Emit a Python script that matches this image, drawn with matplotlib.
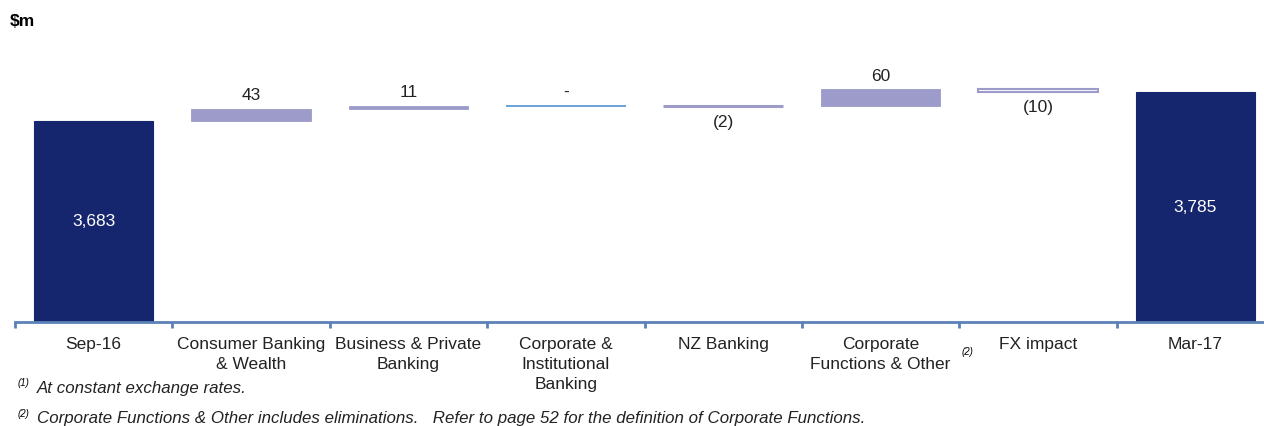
import matplotlib.pyplot as plt
import numpy as np

plt.rcParams['font.family'] = ['Liberation Sans', 'DejaVu Sans']

# data
categories = ["Sep-16", "Consumer Banking\n& Wealth", "Business & Private\nBanking",
              "Corporate &\nInstitutional\nBanking", "NZ Banking",
              "Corporate\nFunctions & Other", "FX impact", "Mar-17"]
values = [3683, 43, 11, 0, -2, 60, -10, 3785]
value_labels = ["3,683", "43", "11", "-", "(2)", "60", "(10)", "3,785"]
is_total = [True, False, False, False, False, False, False, True]

navy = "#16266E"
lav = "#9C9BC9"
axis_blue = "#5B82B8"

fig = plt.figure(figsize=(12.64, 4.26), dpi=100)
# axes spans slightly past the right edge, as in the cropped original
ax = fig.add_axes([15 / 1264, 1 - 322 / 426, (1274 - 15) / 1264, (322 - 40) / 426])

x = np.arange(len(categories))
running = 0
for i, (v, tot) in enumerate(zip(values, is_total)):
    if tot:
        ax.bar(x[i], v, width=0.76, color=navy, edgecolor=navy, linewidth=0.8)
        ax.text(x[i], (v + 2978) / 2, value_labels[i], ha="center", va="center",
                color="white", fontsize=12.5)
        running = v
        continue
    start = running
    end = running + v
    bottom = min(start, end)
    h = abs(v)
    if v == 0:
        ax.bar(x[i], 0, bottom=bottom, width=0.76, color="none",
               edgecolor="#5B9BD5", linewidth=1.3)
    elif i == 6:
        ax.bar(x[i], h, bottom=bottom, width=0.76, color="white",
               edgecolor=lav, linewidth=1.5)
    elif i == 4:
        ax.bar(x[i], h, bottom=bottom, width=0.76, color=lav,
               edgecolor=lav, linewidth=2.2)
    else:
        ax.bar(x[i], h, bottom=bottom, width=0.76, color=lav,
               edgecolor=lav, linewidth=0.6)
    if v >= 0:
        ax.annotate(value_labels[i], (x[i], bottom + h), xytext=(0, 4),
                    textcoords="offset points", ha="center", va="bottom",
                    fontsize=12.5, color="#222222")
    else:
        ax.annotate(value_labels[i], (x[i], bottom), xytext=(0, -6),
                    textcoords="offset points", ha="center", va="top",
                    fontsize=12.5, color="#222222")
    running = end

ax.set_xlim(-0.5, len(categories) - 0.5)
ax.set_ylim(2978, 2978 + 282 / 0.285)

for s in ["left", "right", "top"]:
    ax.spines[s].set_visible(False)
ax.spines["bottom"].set_color(axis_blue)
ax.spines["bottom"].set_linewidth(2)
ax.set_yticks([])

ax.set_xticks(x)
ax.set_xticklabels(categories, fontsize=12.5, color="#222222", linespacing=1.4)
ax.tick_params(axis="x", which="major", length=0, pad=11)
ax.set_xticks(np.arange(len(categories) + 1) - 0.5, minor=True)
ax.tick_params(axis="x", which="minor", length=4, width=2, color=axis_blue, direction="out")

fig.text(10 / 1264, 1 - 21 / 426, "$m", fontsize=12.5, fontweight="bold", va="center")
fig.text(962 / 1264, 1 - 352 / 426, "(2)", fontsize=7, style="italic", va="center")

fig.text(18 / 1264, 1 - 383 / 426, "(1)", fontsize=7, style="italic", va="center")
fig.text(37 / 1264, 1 - 388 / 426, "At constant exchange rates.", fontsize=12.2,
         style="italic", va="center", color="#222222")
fig.text(18 / 1264, 1 - 414 / 426, "(2)", fontsize=7, style="italic", va="center")
fig.text(37 / 1264, 1 - 419 / 426,
         "Corporate Functions & Other includes eliminations.   Refer to page 52 for the definition of Corporate Functions.",
         fontsize=12.2, style="italic", va="center", color="#222222")

fig.savefig("out.png", dpi=100)
